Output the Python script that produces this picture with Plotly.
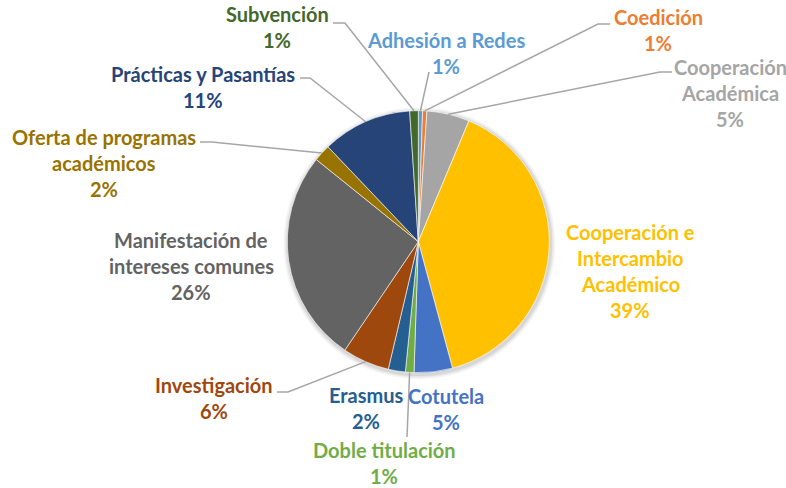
import math
import plotly.graph_objects as go

# slices, clockwise from 12 o'clock
labels = ["Adhesión a Redes", "Coedición", "Cooperación Académica",
          "Cooperación e Intercambio Académico", "Cotutela", "Doble titulación",
          "Erasmus", "Investigación", "Manifestación de intereses comunes",
          "Oferta de programas académicos", "Prácticas y Pasantías", "Subvención"]
counts = [1, 1, 10, 75, 9, 2, 4, 11, 50, 4, 21, 2]
colors = ["#5B9BD5", "#ED7D31", "#A5A5A5", "#FFC000", "#4472C4", "#70AD47",
          "#255E91", "#9E480E", "#636363", "#997300", "#264478", "#43682B"]
# how each label is wrapped in the chart
label_lines = [["Adhesión a Redes"], ["Coedición"], ["Cooperación", "Académica"],
               ["Cooperación e", "Intercambio", "Académico"], ["Cotutela"],
               ["Doble titulación"], ["Erasmus"], ["Investigación"],
               ["Manifestación de", "intereses comunes"],
               ["Oferta de programas", "académicos"], ["Prácticas y Pasantías"],
               ["Subvención"]]

W, H = 786, 488
cx, cy, R = 418.3, 241.7, 131.0

# label placement (pixels): centre of the first line
label_pos = [(446, 40), (658, 17), (730, 67), (630, 232), (446, 396), (384, 450),
             (366, 395), (214, 385), (191, 240), (104, 137), (203, 74), (277, 14)]
# leader lines: start point(s) near the label, end is computed on the pie edge
leaders = {0: [(429, 72)], 1: [(610, 24), (598, 24)], 2: [(672, 72), (660, 72)],
           5: [(407, 437)], 7: [(277, 392), (288, 392)], 9: [(200, 142), (212, 142)],
           10: [(300, 78), (310, 78)], 11: [(333, 23), (345, 23)]}

def px(x, y):
    return x / W, 1 - y / H

total = sum(counts)

fig = go.Figure(go.Pie(
    values=counts, labels=labels, sort=False, direction="clockwise", rotation=0,
    marker=dict(colors=colors, line=dict(color="white", width=0.6)),
    textinfo="none", hoverinfo="label+percent", showlegend=False,
    domain=dict(x=[(cx - R) / W, (cx + R) / W], y=[(H - cy - R) / H, (H - cy + R) / H]),
))

# soft shadow behind the pie
for k, op in [(5, 0.04), (3.5, 0.05), (2, 0.07)]:
    x0, y0 = px(cx - R - k + 1, cy - R - k + 1.5)
    x1, y1 = px(cx + R + k + 1, cy + R + k + 1.5)
    fig.add_shape(type="circle", xref="paper", yref="paper", x0=x0, y0=y1, x1=x1, y1=y0,
                  fillcolor="black", opacity=op, line_width=0, layer="below")

cum = 0
for i, c in enumerate(counts):
    mid = (cum + c / 2) / total * 2 * math.pi
    cum += c
    ex, ey = cx + R * math.sin(mid), cy - R * math.cos(mid)
    pct = f"{round(100 * c / total)}%"
    lines = label_lines[i] + [pct]
    lx, ly = label_pos[i]
    for j, t in enumerate(lines):
        ax, ay = px(lx, ly + 26 * j)
        fig.add_annotation(x=ax, y=ay, xref="paper", yref="paper", text=t, showarrow=False,
                           xanchor="center", yanchor="middle",
                           font=dict(family="Lato", size=20, color=colors[i], weight="bold"))
    if i in leaders:
        pts = leaders[i] + [(ex, ey)]
        path = "M " + " L ".join(f"{px(x, y)[0]:.5f},{px(x, y)[1]:.5f}" for x, y in pts)
        fig.add_shape(type="path", xref="paper", yref="paper", path=path,
                      line=dict(color="#A6A6A6", width=1.5))

fig.update_layout(width=W, height=H, margin=dict(l=0, r=0, t=0, b=0),
                  paper_bgcolor="white", plot_bgcolor="white")
fig.write_html("out.html", config={"displayModeBar": False},
               post_script="document.body.style.margin='0';")
